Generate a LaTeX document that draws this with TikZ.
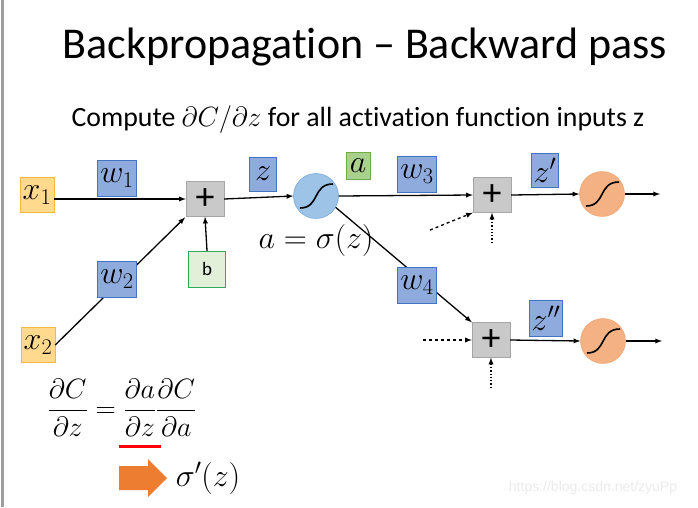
\RequirePackage{fix-cm}
\documentclass[tikz,border=0pt]{standalone}
\usepackage{fontspec}
\setmainfont{Carlito}[Ligatures=NoCommon]
\newfontfamily\wmfont{Liberation Sans}
\usepackage{amsmath}

\definecolor{xfill}{HTML}{FFD98E}
\definecolor{xdraw}{HTML}{F4B942}
\definecolor{wfill}{HTML}{8FAADC}
\definecolor{wdraw}{HTML}{4472C4}
\definecolor{sfill}{HTML}{C9C9C9}
\definecolor{sdraw}{HTML}{A6A6A6}
\definecolor{bfill}{HTML}{E2F0D9}
\definecolor{bdraw}{HTML}{2EAA5C}
\definecolor{afill}{HTML}{A9D18E}
\definecolor{adraw}{HTML}{70AD47}
\definecolor{nblue}{HTML}{9DC3E6}
\definecolor{nbluedraw}{HTML}{5B9BD5}
\definecolor{norange}{HTML}{F4B183}
\definecolor{norangedraw}{HTML}{F19B65}
\definecolor{barrow}{HTML}{ED7D31}

\tikzset{
  big/.style={font=\fontsize{32}{36}\selectfont},
  inbox/.style={big, draw=xdraw, fill=xfill, inner sep=0pt, minimum width=34pt, minimum height=35pt},
  wbox/.style={big, draw=wdraw, fill=wfill, inner sep=0pt, minimum width=39pt, minimum height=36pt},
  zbox/.style={big, draw=wdraw, fill=wfill, inner sep=0pt, minimum width=27pt, minimum height=34pt},
  sumbox/.style={font=\fontsize{38}{40}\selectfont, draw=sdraw, fill=sfill, inner sep=0pt, minimum width=38pt, minimum height=35pt},
  biasbox/.style={draw=bdraw, fill=bfill, inner sep=0pt, minimum width=37pt, minimum height=36pt, font=\fontsize{19}{22}\selectfont},
  actbox/.style={big, draw=adraw, fill=afill, inner sep=0pt, minimum width=24pt, minimum height=27pt},
  neuron/.style={circle, inner sep=0pt, minimum size=45pt, draw=#1draw, fill=#1},
  conn/.style={line width=1.3pt, -latex},
}

\begin{document}
\begin{tikzpicture}[x=1pt,y=-1pt]
\useasboundingbox (0,0) rectangle (698,507);
\fill[white] (0,0) rectangle (698,507);
\fill[black!38] (1,0) rectangle (4,507);

\node[font=\fontsize{44}{50}\selectfont] (title) at (365,47) {Backpropagation – Backward pass};
\node[font=\fontsize{27.8}{32}\selectfont] (sub) at (358,120) {Compute $\partial C/\partial z$ for all activation function inputs z};

\node[inbox] (x1) at (37,195) {$x_1$};
\node[inbox] (x2) at (38,345) {$x_2$};
\node[sumbox] (p1) at (205,199) {+};
\node[biasbox] (b) at (207,269) {b};
\node[neuron=nblue] (s1) at (316,196) {};
\node[sumbox] (p2) at (492,195) {+};
\node[sumbox] (p3) at (491,340) {+};
\node[neuron=norange] (s2) at (602,194) {};
\node[neuron=norange] (s3) at (603,341) {};

\coordinate (o2) at (660,194);
\coordinate (o3) at (662,341);
\coordinate (d2) at (430,230);
\coordinate (d3) at (423,340);
\coordinate (t2) at (492,243);
\coordinate (t3) at (491,388);

\draw[conn] (x1.east |- p1.west) -- (p1.west);
\draw[conn, shorten >=1pt] (x2.east) -- (p1.south west);
\draw[conn] (b.north) -- (p1.south);
\draw[conn] (p1.east) -- (s1.west);
\draw[conn] (s1.east) -- (p2.west);
\draw[conn] (s1.-30) -- (p3.north west);
\draw[conn] (p2.east) -- (s2.west);
\draw[conn] (s2.east) -- (o2);
\draw[conn] (p3.east) -- (s3.west);
\draw[conn] (s3.east) -- (o3);
\draw[conn, dashed] (d2) -- (p2.south west);
\draw[conn, dashed] (d3) -- (p3.west);
\draw[conn, dotted] (t2) -- (p2.south);
\draw[conn, dotted] (t3) -- (p3.south);

\foreach \n in {s1,s2,s3}
  \draw[line width=1.6pt, shift={(\n.center)}] (-16,12) .. controls (4,12) and (-4,-12) .. (17,-12);

\node[wbox] (w1) at (117,178) {$w_1$};
\node[wbox] (w2) at (117,279) {$w_2$};
\node[zbox] (z) at (263,174) {$z$};
\node[actbox] (a) at (358,166) {$a$};
\node[wbox] (w3) at (417,174) {$w_3$};
\node[wbox] (w4) at (417,285) {$w_4$};
\node[zbox] (z1) at (545,170) {$z'$};
\node[wbox, minimum width=33pt] (z2) at (546,318) {$z''$};
\node[big] (sig) at (316,240) {$a=\sigma(z)$};

\node[font=\fontsize{28}{32}\selectfont] (chain) at (122,408)
  {$\displaystyle\frac{\partial C}{\partial z}=\frac{\partial a}{\partial z}\frac{\partial C}{\partial a}$};
\draw[red, line width=3pt] (119,446) -- (161,446);
\fill[barrow] (119,466) -- (148,466) -- (148,459) -- (167,478) -- (148,497) -- (148,490) -- (119,490) -- cycle;
\node[big] (dsig) at (208,478) {$\sigma'(z)$};

\node[text=black!8, font=\fontsize{14}{16}\wmfont] (wm) at (593,488) {https://blog.csdn.net/zyuPp};
\end{tikzpicture}
\end{document}
